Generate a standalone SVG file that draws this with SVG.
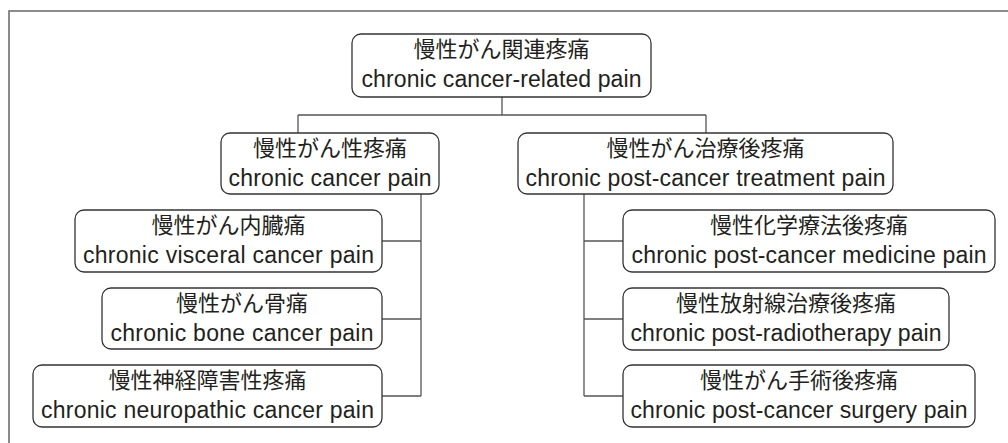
<svg xmlns="http://www.w3.org/2000/svg" width="1008" height="443" viewBox="0 0 1008 443">
<style>
.box{fill:#fff;stroke:#333;stroke-width:1.3}
.jp{font-family:"Noto Sans CJK JP","Noto Sans CJK SC",sans-serif;font-size:22px;fill:#231f20;text-anchor:middle}
.en{font-family:"Liberation Sans",Arial,sans-serif;font-size:23px;fill:#231f20;text-anchor:middle}
.ln{fill:none;stroke:#555;stroke-width:1.3}
</style>
<rect width="1008" height="443" fill="#fff"/>
<path d="M9,443 V11 H1008" fill="none" stroke="#666" stroke-width="1.5"/>
<g id="connectors">
<path class="ln" d="M502,97 V115 M298,115 H706 M298,115 V133 M706,115 V133"/>
<path class="ln" d="M421,194 V396 M382,241 H421 M382,319 H421 M382,396 H421"/>
<path class="ln" d="M584,194 V396 M584,241 H623 M584,319 H623 M584,396 H623"/>
</g>
<g id="root">
<rect class="box" x="352" y="34" width="299" height="63" rx="9"/>
<text class="jp" x="501.5" y="57">慢性がん関連疼痛</text>
<text class="en" x="501.5" y="87" textLength="280" lengthAdjust="spacing">chronic cancer-related pain</text>
</g>
<g id="cancer-pain">
<rect class="box" x="221" y="133" width="218" height="61" rx="9"/>
<text class="jp" x="330" y="156">慢性がん性疼痛</text>
<text class="en" x="330" y="186" textLength="203" lengthAdjust="spacing">chronic cancer pain</text>
</g>
<g id="post-treatment">
<rect class="box" x="518" y="133" width="375" height="61" rx="9"/>
<text class="jp" x="705.5" y="156">慢性がん治療後疼痛</text>
<text class="en" x="705.5" y="186" textLength="360" lengthAdjust="spacing">chronic post-cancer treatment pain</text>
</g>
<g id="visceral">
<rect class="box" x="75" y="210" width="307" height="62" rx="9"/>
<text class="jp" x="228.5" y="233">慢性がん内臓痛</text>
<text class="en" x="228.5" y="263" textLength="291" lengthAdjust="spacing">chronic visceral cancer pain</text>
</g>
<g id="bone">
<rect class="box" x="102" y="288" width="280" height="61" rx="9"/>
<text class="jp" x="242" y="311">慢性がん骨痛</text>
<text class="en" x="242" y="341" textLength="263" lengthAdjust="spacing">chronic bone cancer pain</text>
</g>
<g id="neuropathic">
<rect class="box" x="33" y="365" width="349" height="62" rx="9"/>
<text class="jp" x="207.5" y="388">慢性神経障害性疼痛</text>
<text class="en" x="207.5" y="418" textLength="333" lengthAdjust="spacing">chronic neuropathic cancer pain</text>
</g>
<g id="medicine">
<rect class="box" x="623" y="210" width="372" height="62" rx="9"/>
<text class="jp" x="809" y="233">慢性化学療法後疼痛</text>
<text class="en" x="809" y="263" textLength="355" lengthAdjust="spacing">chronic post-cancer medicine pain</text>
</g>
<g id="radiotherapy">
<rect class="box" x="623" y="288" width="326" height="62" rx="9"/>
<text class="jp" x="786" y="311">慢性放射線治療後疼痛</text>
<text class="en" x="786" y="341" textLength="311" lengthAdjust="spacing">chronic post-radiotherapy pain</text>
</g>
<g id="surgery">
<rect class="box" x="623" y="365" width="352" height="62" rx="9"/>
<text class="jp" x="799" y="388">慢性がん手術後疼痛</text>
<text class="en" x="799" y="418" textLength="337" lengthAdjust="spacing">chronic post-cancer surgery pain</text>
</g>
</svg>
